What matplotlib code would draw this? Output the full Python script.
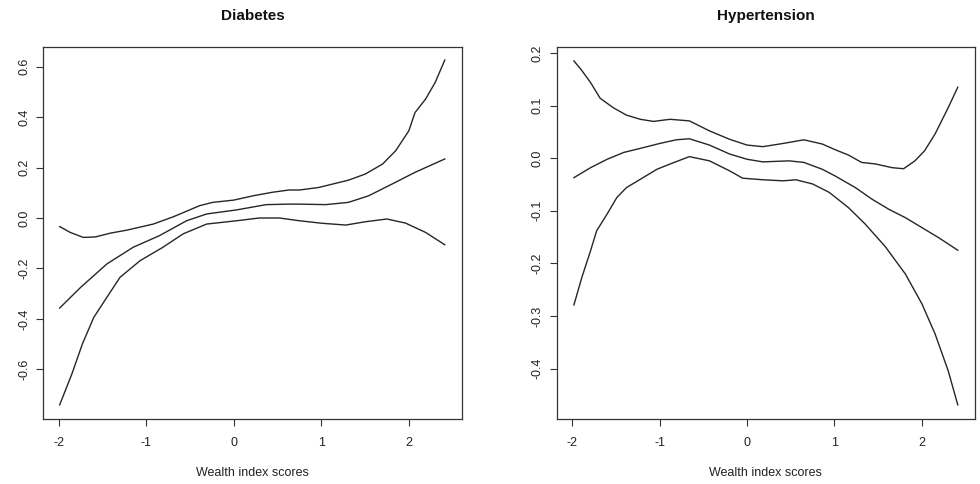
import matplotlib
matplotlib.use("Agg")
import matplotlib.pyplot as plt

plt.rcParams['font.family'] = ['Liberation Sans', 'DejaVu Sans']

# ---- Diabetes ----
dia_x_mid = [-1.99, -1.75, -1.45, -1.15, -0.85, -0.54, -0.31, 0.03, 0.37, 0.63, 0.75, 1.05, 1.31, 1.54, 1.81, 2.07, 2.41]
dia_mid = [-0.357, -0.275, -0.182, -0.116, -0.070, -0.011, 0.016, 0.032, 0.053, 0.055, 0.055, 0.053, 0.062, 0.088, 0.135, 0.181, 0.234]

dia_x_up = [-1.99, -1.87, -1.72, -1.58, -1.41, -1.22, -0.92, -0.69, -0.39, -0.24, 0.0, 0.22, 0.44, 0.63, 0.75, 0.97, 1.31, 1.50, 1.70, 1.85, 2.0, 2.07, 2.19, 2.30, 2.41]
dia_up = [-0.034, -0.057, -0.077, -0.075, -0.060, -0.048, -0.024, 0.005, 0.049, 0.062, 0.071, 0.088, 0.102, 0.111, 0.111, 0.121, 0.150, 0.174, 0.214, 0.267, 0.346, 0.418, 0.471, 0.537, 0.626]

dia_x_lo = [-1.99, -1.85, -1.73, -1.60, -1.45, -1.30, -1.07, -0.81, -0.58, -0.31, 0.03, 0.29, 0.52, 0.75, 1.01, 1.28, 1.50, 1.75, 1.96, 2.19, 2.41]
dia_lo = [-0.741, -0.618, -0.499, -0.394, -0.314, -0.235, -0.169, -0.116, -0.063, -0.024, -0.011, 0.0, 0.0, -0.011, -0.021, -0.028, -0.015, -0.004, -0.020, -0.057, -0.106]

# ---- Hypertension ----
hyp_x_mid = [-1.98, -1.79, -1.6, -1.41, -1.19, -1.0, -0.81, -0.66, -0.43, -0.2, 0.0, 0.18, 0.48, 0.65, 0.86, 1.01, 1.24, 1.43, 1.62, 1.81, 2.0, 2.19, 2.41]
hyp_mid = [-0.037, -0.018, -0.002, 0.011, 0.020, 0.028, 0.035, 0.037, 0.025, 0.008, -0.002, -0.007, -0.005, -0.008, -0.021, -0.034, -0.056, -0.078, -0.097, -0.113, -0.132, -0.151, -0.175]

hyp_x_up = [-1.98, -1.9, -1.79, -1.68, -1.53, -1.38, -1.22, -1.07, -0.88, -0.66, -0.43, -0.2, 0.0, 0.18, 0.41, 0.65, 0.86, 1.01, 1.16, 1.31, 1.47, 1.66, 1.79, 1.92, 2.03, 2.15, 2.30, 2.41]
hyp_up = [0.185, 0.169, 0.144, 0.114, 0.096, 0.082, 0.074, 0.070, 0.074, 0.071, 0.052, 0.036, 0.025, 0.022, 0.028, 0.035, 0.027, 0.016, 0.006, -0.008, -0.011, -0.018, -0.020, -0.005, 0.014, 0.046, 0.096, 0.135]

hyp_x_lo = [-1.98, -1.89, -1.79, -1.72, -1.6, -1.49, -1.38, -1.22, -1.03, -0.88, -0.66, -0.43, -0.2, -0.05, 0.18, 0.41, 0.56, 0.75, 0.94, 1.16, 1.35, 1.58, 1.81, 2.0, 2.15, 2.30, 2.41]
hyp_lo = [-0.279, -0.227, -0.176, -0.138, -0.106, -0.075, -0.056, -0.040, -0.021, -0.011, 0.003, -0.005, -0.024, -0.038, -0.041, -0.043, -0.041, -0.049, -0.065, -0.094, -0.125, -0.168, -0.220, -0.277, -0.334, -0.404, -0.469]

titles = ["Diabetes", "Hypertension"]
xlabel = "Wealth index scores"
x_ticks = [-2, -1, 0, 1, 2]
dia_yticks = [-0.6, -0.4, -0.2, 0.0, 0.2, 0.4, 0.6]
hyp_yticks = [-0.4, -0.3, -0.2, -0.1, 0.0, 0.1, 0.2]

W, H = 980, 484
fig = plt.figure(figsize=(W / 100, H / 100), dpi=100)

def px_axes(x0, x1, y0, y1):
    return fig.add_axes([x0 / W, 1 - y1 / H, (x1 - x0) / W, (y1 - y0) / H])

ax1 = px_axes(43.3, 462, 47, 418.5)
ax2 = px_axes(556.7, 975, 47, 418.5)

lc = '#262626'
panels = [
    (ax1, [(dia_x_mid, dia_mid), (dia_x_up, dia_up), (dia_x_lo, dia_lo)], dia_yticks, (-0.795, 0.678)),
    (ax2, [(hyp_x_mid, hyp_mid), (hyp_x_up, hyp_up), (hyp_x_lo, hyp_lo)], hyp_yticks, (-0.495, 0.2115)),
]

for i, (ax, series, yt, ylim) in enumerate(panels):
    for xs, ys in series:
        ax.plot(xs, ys, color=lc, lw=1.0)
    ax.set_xlim(-2.177, 2.607)
    ax.set_ylim(*ylim)
    ax.set_xticks(x_ticks)
    ax.set_xticklabels([str(v) for v in x_ticks])
    ax.set_yticks(yt)
    ax.set_yticklabels([f"{v:.1f}" for v in yt], rotation=90, va='center')
    ax.tick_params(direction='out', length=5, width=0.8, colors='#333333',
                   labelsize=9, labelcolor='#222222')
    ax.tick_params(axis='x', pad=8)
    ax.tick_params(axis='y', pad=4.5)
    for s in ax.spines.values():
        s.set_color('#333333')
        s.set_linewidth(0.9)
    pos = ax.get_position()
    cx = pos.x0 + pos.width / 2
    fig.text(cx, 1 - 16 / H, titles[i], ha='center', va='center',
             fontsize=11, fontweight='bold', color='#111111')
    fig.text(cx, 1 - 473 / H, xlabel, ha='center', va='center',
             fontsize=9, color='#222222')

fig.savefig("out.png", dpi=100)
